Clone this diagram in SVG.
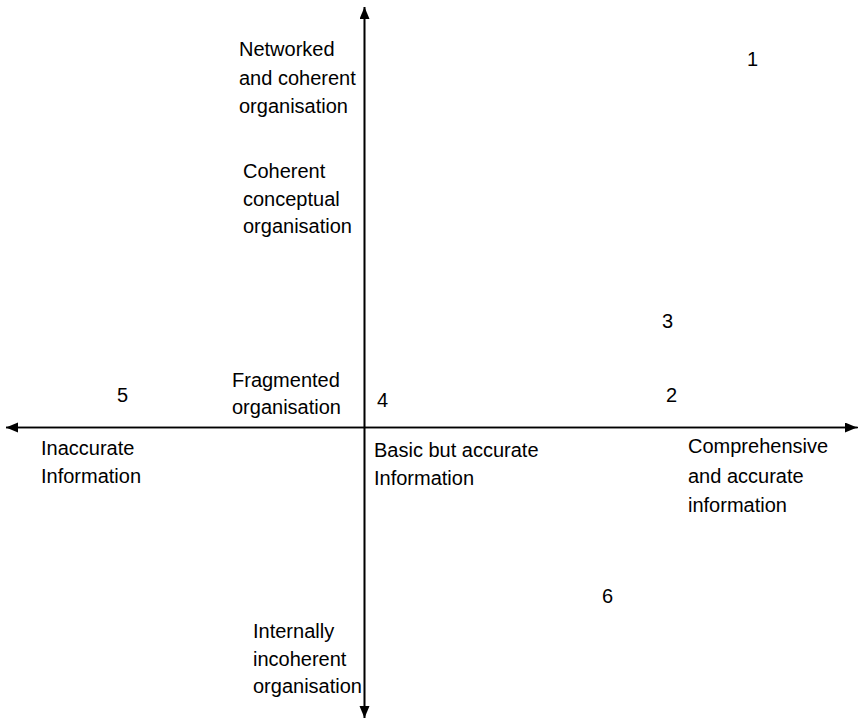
<svg xmlns="http://www.w3.org/2000/svg" width="858" height="719" viewBox="0 0 858 719">
<style>
text{font-family:"Liberation Sans",Arial,sans-serif;font-size:20px;fill:#000}
.ax{stroke:#000;stroke-width:1.6;fill:none}
</style>
<defs>
<marker id="ah" markerUnits="userSpaceOnUse" markerWidth="14" markerHeight="12" refX="12" refY="5" orient="auto">
<path d="M0,0 L12,5 L0,10 Z" fill="#000"/>
</marker>
</defs>
<rect width="858" height="719" fill="#fff"/>
<g id="connectors">
<line class="ax" x1="364.5" y1="718" x2="364.5" y2="7" marker-end="url(#ah)"/>
<line class="ax" x1="364.5" y1="7" x2="364.5" y2="718" marker-end="url(#ah)"/>
<line class="ax" x1="858" y1="427.5" x2="6" y2="427.5" marker-end="url(#ah)"/>
<line class="ax" x1="6" y1="427.5" x2="857" y2="427.5" marker-end="url(#ah)"/>
</g>
<g id="label-networked"><text x="239" y="56">Networked</text><text x="239" y="85">and coherent</text><text x="239" y="113">organisation</text></g>
<g id="label-coherent"><text x="243" y="178">Coherent</text><text x="243" y="206">conceptual</text><text x="243" y="233">organisation</text></g>
<g id="label-fragmented"><text x="232" y="387">Fragmented</text><text x="232" y="414">organisation</text></g>
<g id="label-internally"><text x="253" y="638">Internally</text><text x="253" y="666">incoherent</text><text x="253" y="693">organisation</text></g>
<g id="label-inaccurate"><text x="41" y="455">Inaccurate</text><text x="41" y="483">Information</text></g>
<g id="label-basic"><text x="374" y="457">Basic but accurate</text><text x="374" y="485">Information</text></g>
<g id="label-comprehensive"><text x="688" y="453">Comprehensive</text><text x="688" y="483">and accurate</text><text x="688" y="512">information</text></g>
<g id="point-1"><text x="747" y="66">1</text></g>
<g id="point-2"><text x="666" y="402">2</text></g>
<g id="point-3"><text x="662" y="328">3</text></g>
<g id="point-4"><text x="377" y="407">4</text></g>
<g id="point-5"><text x="117" y="402">5</text></g>
<g id="point-6"><text x="602" y="603">6</text></g>
</svg>
